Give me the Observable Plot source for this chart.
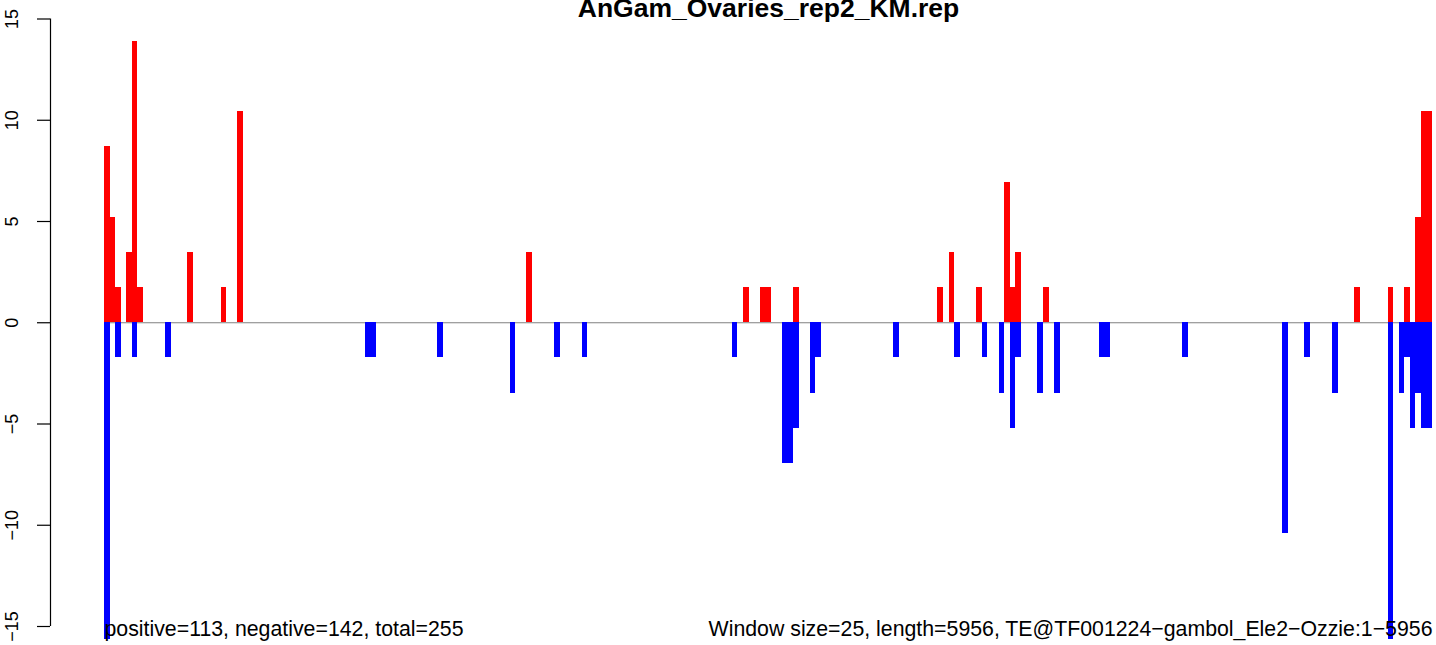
<!DOCTYPE html>
<html>
<head>
<meta charset="utf-8">
<script src="https://cdn.jsdelivr.net/npm/d3@7"></script>
<script src="https://cdn.jsdelivr.net/npm/@observablehq/plot@0.6"></script>
<style>
  html, body { margin: 0; padding: 0; background: #fff; }
  svg { display: block; }
</style>
</head>
<body>
<div id="chart"></div>
<script>
const title = "AnGam_Ovaries_rep2_KM.rep";
const leftCaption = "positive=113, negative=142, total=255";
const rightCaption = "Window size=25, length=5956, TE@TF001224\u2212gambol_Ele2\u2212Ozzie:1\u22125956";
const windowSize = 25;
const seqLength = 5956;

// window index -> value (positive strand)
const posWin = [0, 1, 2, 4, 5, 6, 15, 21, 24, 76, 115, 118, 119, 124, 150, 152, 157, 162, 163, 164, 169, 225, 231, 234, 236, 237, 238];
const posVal = [8.69, 5.21, 1.74, 3.48, 13.9, 1.74, 3.48, 1.74, 10.43, 3.48, 1.74, 1.74, 1.74, 1.74, 1.74, 3.48, 1.74, 6.95, 1.74, 3.48, 1.74, 1.74, 1.74, 1.74, 5.21, 10.43, 10.43];

// window index -> value (negative strand)
const negWin = [0, 2, 5, 11, 47, 48, 60, 73, 81, 86, 113, 122, 123, 124, 127, 128, 142, 153, 158, 161, 163, 164, 168, 171, 179, 180, 194, 212, 216, 221, 231, 233, 234, 235, 236, 237, 238];
const negVal = [-15.64, -1.74, -1.74, -1.74, -1.74, -1.74, -1.74, -3.48, -1.74, -1.74, -1.74, -6.95, -6.95, -5.21, -3.48, -1.74, -1.74, -1.74, -1.74, -3.48, -5.21, -1.74, -3.48, -3.48, -1.74, -1.74, -1.74, -10.43, -1.74, -3.48, -15.64, -3.48, -1.74, -5.21, -3.48, -5.21, -5.21];

const yTicks = [-15, -10, -5, 0, 5, 10, 15];

const pos = posWin.map((w, i) => ({w, v: posVal[i]}));
const neg = negWin.map((w, i) => ({w, v: negVal[i]}));
const nWin = Math.ceil(seqLength / windowSize);

const font = "'Liberation Sans', Arial, Helvetica, sans-serif";

const chart = Plot.plot({
  width: 1436,
  height: 645,
  marginLeft: 104,
  marginRight: 4,
  marginTop: 18.5,
  marginBottom: 19,
  style: {fontFamily: font, background: "#fff", color: "#000"},
  x: {domain: [0, nWin], axis: null},
  y: {domain: [-15, 15], axis: null},
  marks: [
    Plot.ruleY([0], {stroke: "#808080", strokeWidth: 1.2}),
    Plot.rectY(neg, {x1: "w", x2: d => d.w + 1, y1: 0, y2: "v", fill: "#0000ff", shapeRendering: "crispEdges"}),
    Plot.rectY(pos, {x1: "w", x2: d => d.w + 1, y1: 0, y2: "v", fill: "#ff0000", shapeRendering: "crispEdges"}),
    Plot.axisY({ticks: yTicks, tickSize: 13, dx: -54, tickFormat: () => "", label: null, stroke: "#000", strokeWidth: 1.2}),
    Plot.ruleX([0], {y1: -15, y2: 15, dx: -54, stroke: "#000", strokeWidth: 1.2}),
    Plot.text(yTicks, {y: d => d, text: d => String(d).replace("-", "\u2212"), frameAnchor: "left", dx: -92, rotate: -90, textAnchor: "middle", lineAnchor: "middle", fontSize: 18, fill: "#000"}),
    Plot.text([title], {frameAnchor: "top", lineAnchor: "bottom", dy: -2, fontSize: 26.5, fontWeight: "bold", fill: "#000"}),
    Plot.text([leftCaption], {frameAnchor: "bottom-left", textAnchor: "start", lineAnchor: "bottom", dy: 9, fontSize: 21.3, fill: "#000"}),
    Plot.text([rightCaption], {frameAnchor: "bottom-right", textAnchor: "end", lineAnchor: "bottom", dy: 9, fontSize: 21.3, fill: "#000"})
  ]
});
document.getElementById("chart").appendChild(chart);
</script>
</body>
</html>
